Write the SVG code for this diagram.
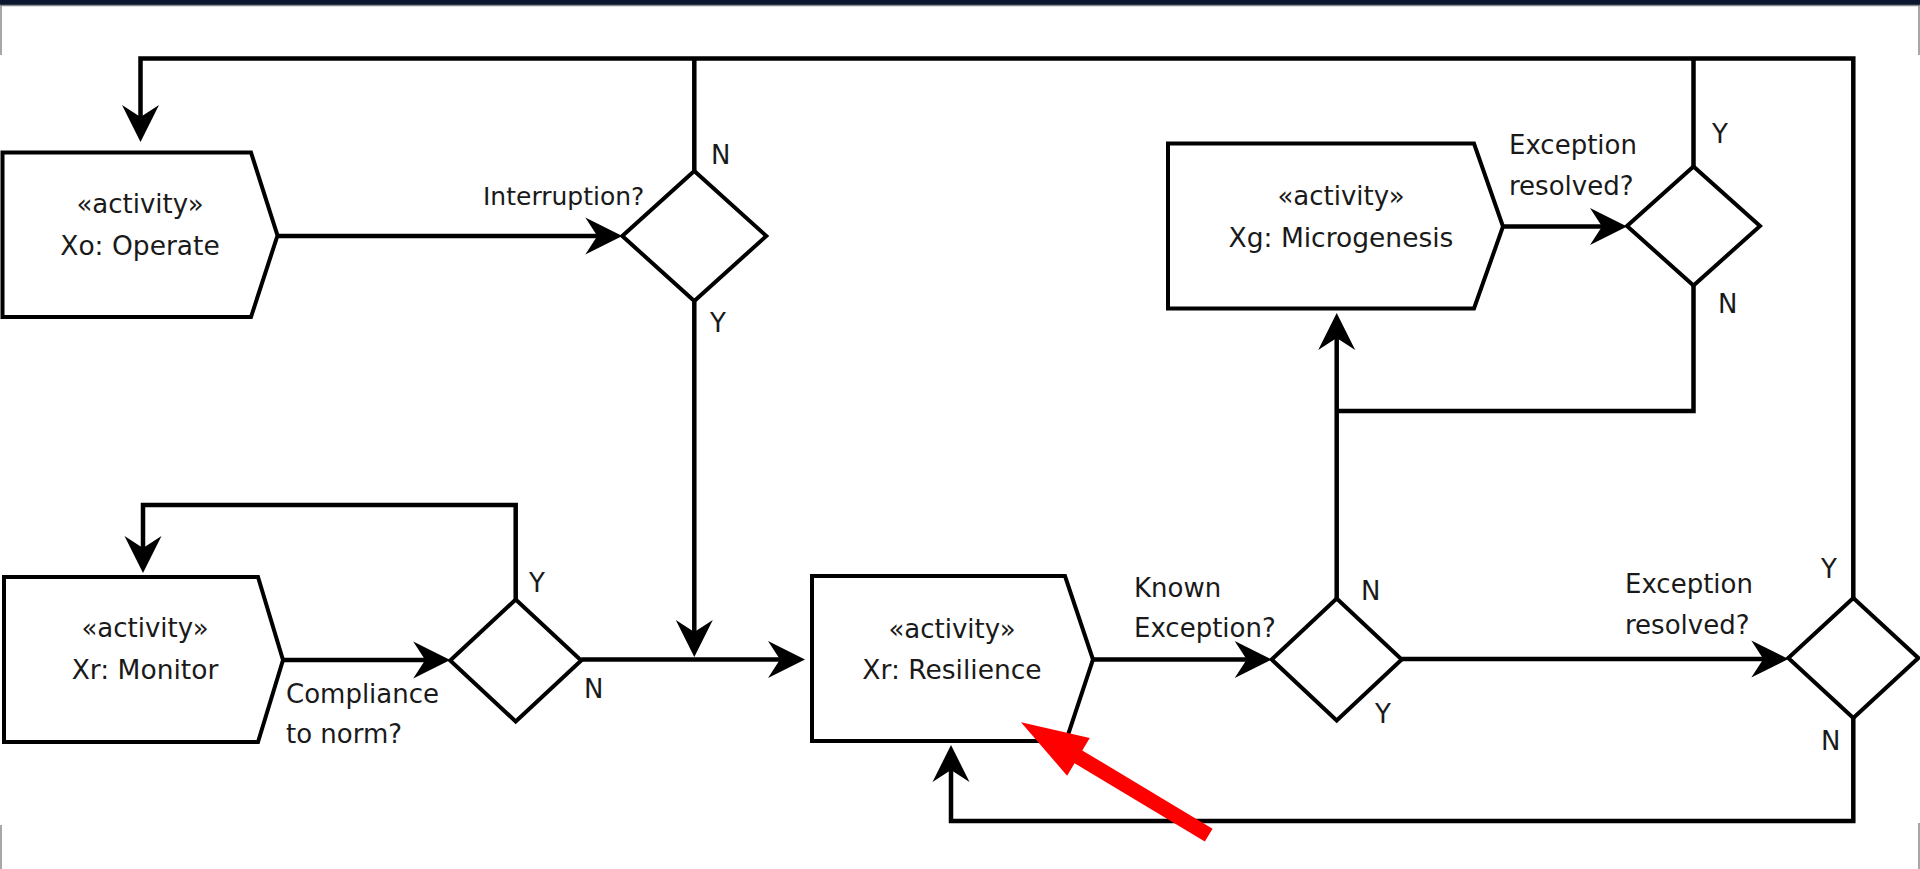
<svg xmlns="http://www.w3.org/2000/svg" width="1920" height="869" viewBox="0 0 1920 869">
  <defs>
    <style>
      .shape { fill: #ffffff; stroke: #000000; stroke-width: 4; stroke-linejoin: miter; }
      .conn { fill: none; stroke: #000000; stroke-width: 4.5; stroke-linejoin: miter; stroke-linecap: butt; }
      .txt { font-family: "DejaVu Sans", "Liberation Sans", sans-serif; font-size: 26px; fill: #1a1a1a; }
      .name { font-size: 26.5px; }
      .mid { text-anchor: middle; }
      .frame { stroke: #8a8a8a; stroke-width: 1.5; fill: none; }
    </style>
    <!-- filled arrowhead with a shallow notch; tip sits 20px past the path end -->
    <marker id="arrow" markerUnits="userSpaceOnUse" markerWidth="60" markerHeight="44" viewBox="-40 -22 60 44" refX="-20" refY="0" orient="auto">
      <path d="M0,0 L-37,-18.5 L-25,0 L-37,18.5 Z" fill="#000000"/>
    </marker>
  </defs>

  <rect x="0" y="0" width="1920" height="869" fill="#ffffff"/>

  <!-- window frame -->
  <g id="frame">
    <rect x="0" y="0" width="1920" height="5" fill="#0b1631"/>
    <path class="frame" d="M0,5.5 H1920"/>
    <path class="frame" d="M1,5 V55 M1919,5 V55 M1,825 V869 M1919,823 V869"/>
  </g>

  <!-- connectors -->
  <g id="connectors">
    <path class="conn" d="M277.5,236 H602.3" marker-end="url(#arrow)"/>
    <path class="conn" d="M1853.3,598 V58.5 H140.5 V122" marker-end="url(#arrow)"/>
    <path class="conn" d="M694.3,171 V58.5"/>
    <path class="conn" d="M1693.5,166.5 V58.5"/>
    <path class="conn" d="M694.3,301 V637" marker-end="url(#arrow)"/>
    <path class="conn" d="M283,660 H430.2" marker-end="url(#arrow)"/>
    <path class="conn" d="M515.7,599.5 V505 H143 V553" marker-end="url(#arrow)"/>
    <path class="conn" d="M581.2,659.5 H785" marker-end="url(#arrow)"/>
    <path class="conn" d="M1093,659.5 H1251.7" marker-end="url(#arrow)"/>
    <path class="conn" d="M1336.7,598.5 V333" marker-end="url(#arrow)"/>
    <path class="conn" d="M1693.5,285.5 V411 H1336.7"/>
    <path class="conn" d="M1503,226.5 H1607" marker-end="url(#arrow)"/>
    <path class="conn" d="M1401.7,659 H1768.3" marker-end="url(#arrow)"/>
    <path class="conn" d="M1853.3,718 V821 H951 V765" marker-end="url(#arrow)"/>
  </g>

  <!-- activities -->
  <g id="operate">
    <polygon class="shape" points="2.5,152.5 251,152.5 277.5,235.5 251,317 2.5,317"/>
    <text class="txt mid" x="140" y="213">«activity»</text>
    <text class="txt name mid" x="140" y="255">Xo: Operate</text>
  </g>
  <g id="monitor">
    <polygon class="shape" points="4,577 258,577 283,660 258,742 4,742"/>
    <text class="txt mid" x="145" y="637">«activity»</text>
    <text class="txt name mid" x="145" y="679">Xr: Monitor</text>
  </g>
  <g id="resilience">
    <polygon class="shape" points="812,576 1065,576 1093,659.5 1066,741 812,741"/>
    <text class="txt mid" x="952" y="638">«activity»</text>
    <text class="txt name mid" x="952" y="679">Xr: Resilience</text>
  </g>
  <g id="microgenesis">
    <polygon class="shape" points="1168,143.5 1474,143.5 1503,226.5 1474,308.5 1168,308.5"/>
    <text class="txt mid" x="1341" y="205">«activity»</text>
    <text class="txt name mid" x="1341" y="247">Xg: Microgenesis</text>
  </g>

  <!-- decisions -->
  <g id="interruption">
    <polygon class="shape" points="622.3,236 694.3,171 766.3,236 694.3,301"/>
    <text class="txt" x="483" y="205" style="font-size:25px">Interruption?</text>
    <text class="txt" x="711" y="164">N</text>
    <text class="txt" x="710" y="332">Y</text>
  </g>
  <g id="compliance">
    <polygon class="shape" points="450.2,660.5 515.7,599.5 581.2,660.5 515.7,721.5"/>
    <text class="txt" x="286" y="703">Compliance</text>
    <text class="txt" x="286" y="743">to norm?</text>
    <text class="txt" x="529" y="592">Y</text>
    <text class="txt" x="584" y="698">N</text>
  </g>
  <g id="known-exception">
    <polygon class="shape" points="1271.7,659.5 1336.7,598.5 1401.7,659.5 1336.7,720.5"/>
    <text class="txt" x="1134" y="597">Known</text>
    <text class="txt" x="1134" y="637">Exception?</text>
    <text class="txt" x="1361" y="600">N</text>
    <text class="txt" x="1375" y="723">Y</text>
  </g>
  <g id="resolved-upper">
    <polygon class="shape" points="1627,226 1693.5,166.5 1760,226 1693.5,285.5"/>
    <text class="txt" x="1509" y="154">Exception</text>
    <text class="txt" x="1509" y="195">resolved?</text>
    <text class="txt" x="1712" y="143">Y</text>
    <text class="txt" x="1718" y="313">N</text>
  </g>
  <g id="resolved-lower">
    <polygon class="shape" points="1788.3,658 1853.3,598 1918.3,658 1853.3,718"/>
    <text class="txt" x="1625" y="593">Exception</text>
    <text class="txt" x="1625" y="634">resolved?</text>
    <text class="txt" x="1821" y="578">Y</text>
    <text class="txt" x="1821" y="750">N</text>
  </g>

  <!-- red pointer onto the resilience activity -->
  <g id="pointer">
    <polygon fill="#ff0000" transform="translate(1021,722.3) rotate(211)" points="0,0 -67,-22 -67,-7.5 -219,-7.5 -219,7.5 -67,7.5 -67,22"/>
  </g>
</svg>
